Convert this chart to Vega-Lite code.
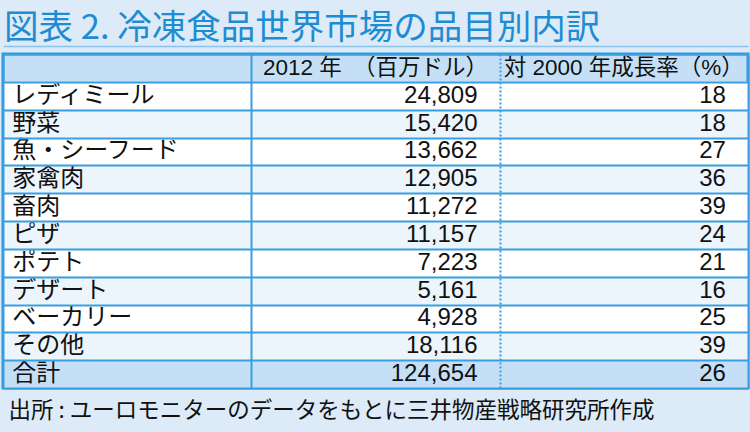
{
  "$schema": "https://vega.github.io/schema/vega-lite/v6.json",
  "width": 745,
  "height": 334,
  "autosize": {"type": "none"},
  "padding": {"left": 3, "top": 54, "right": 2, "bottom": 44},
  "background": "#ddeaf7",
  "title": {
    "text": "図表 2. 冷凍食品世界市場の品目別内訳",
    "anchor": "start",
    "frame": "group",
    "baseline": "alphabetic",
    "offset": 6,
    "dx": 1,
    "dy": 33,
    "font": "Noto Sans CJK JP",
    "fontSize": 34.5,
    "fontWeight": "normal",
    "color": "#1e8cd2"
  },
  "config": {
    "view": {"fill": "#c5e0f6", "stroke": "#2b97dd", "strokeWidth": 3},
    "text": {"font": "Liberation Sans, Noto Sans CJK JP", "fontSize": 24, "color": "#111111"}
  },
  "data": {
    "values": [
      {"item": "レディミール", "sales": 24809, "growth": 18},
      {"item": "野菜", "sales": 15420, "growth": 18},
      {"item": "魚・シーフード", "sales": 13662, "growth": 27},
      {"item": "家禽肉", "sales": 12905, "growth": 36},
      {"item": "畜肉", "sales": 11272, "growth": 39},
      {"item": "ピザ", "sales": 11157, "growth": 24},
      {"item": "ポテト", "sales": 7223, "growth": 21},
      {"item": "デザート", "sales": 5161, "growth": 16},
      {"item": "ベーカリー", "sales": 4928, "growth": 25},
      {"item": "その他", "sales": 18116, "growth": 39},
      {"item": "合計", "sales": 124654, "growth": 26}
    ]
  },
  "layer": [
    {
      "transform": [
        {"window": [{"op": "row_number", "as": "n"}]},
        {"calculate": "datum.n == 11 ? 'total' : (datum.n % 2 == 1 ? 'odd' : 'even')", "as": "shade"},
        {"fold": ["item", "sales", "growth"], "as": ["col", "v"]}
      ],
      "mark": {"type": "rect"},
      "encoding": {
        "x": {
          "field": "col",
          "type": "nominal",
          "scale": {"domain": ["item", "sales", "growth"], "paddingInner": 0, "paddingOuter": 0},
          "axis": {
            "orient": "bottom",
            "labels": false,
            "ticks": false,
            "domain": false,
            "grid": true,
            "tickBand": "extent",
            "gridColor": "#3a9fe0",
            "gridWidth": 2,
            "gridOpacity": 1,
            "gridDash": {"condition": {"test": "datum.value == 'sales'", "value": [2, 2]}, "value": [1, 0]},
            "zindex": 1,
            "title": "出所 : ユーロモニターのデータをもとに三井物産戦略研究所作成",
            "titleAnchor": "start",
            "titleAlign": "left",
            "titleBaseline": "alphabetic",
            "titleX": 5,
            "titleY": 29,
            "titleFont": "Noto Sans CJK JP",
            "titleFontSize": 22.5,
            "titleFontWeight": "normal",
            "titleColor": "#111111"
          }
        },
        "y": {
          "field": "item",
          "type": "nominal",
          "scale": {
            "domain": [" ", "レディミール", "野菜", "魚・シーフード", "家禽肉", "畜肉", "ピザ", "ポテト", "デザート", "ベーカリー", "その他", "合計"],
            "paddingInner": 0,
            "paddingOuter": 0
          },
          "axis": {
            "orient": "left",
            "labels": false,
            "ticks": false,
            "domain": false,
            "grid": true,
            "tickBand": "extent",
            "gridColor": "#3a9fe0",
            "gridWidth": 2,
            "gridOpacity": 1,
            "zindex": 1,
            "title": null
          }
        },
        "color": {
          "field": "shade",
          "type": "nominal",
          "scale": {"domain": ["odd", "even", "total"], "range": ["#ffffff", "#ecf4fc", "#c5e0f6"]},
          "legend": null
        }
      }
    },
    {
      "transform": [{"fold": ["item"], "as": ["col", "label"]}],
      "mark": {"type": "text", "align": "left", "dx": -115, "font": "Noto Sans CJK JP", "fontSize": 24},
      "encoding": {
        "x": {"field": "col", "type": "nominal", "axis": null},
        "y": {"field": "item", "type": "nominal"},
        "text": {"field": "label"}
      }
    },
    {
      "transform": [{"fold": ["sales", "growth"], "as": ["col", "value"]}],
      "mark": {"type": "text", "align": "right", "dx": 102},
      "encoding": {
        "x": {"field": "col", "type": "nominal", "axis": null},
        "y": {"field": "item", "type": "nominal"},
        "text": {"field": "value", "type": "quantitative", "format": ","}
      }
    },
    {
      "data": {
        "values": [
          {"col": "sales", "label": "2012 年　（百万ドル）"},
          {"col": "growth", "label": "対 2000 年成長率（%）"}
        ]
      },
      "mark": {"type": "text", "align": "center", "fontSize": 22.5},
      "encoding": {
        "x": {
          "field": "col",
          "type": "nominal",
          "axis": {
            "orient": "top",
            "labels": false,
            "ticks": false,
            "domain": true,
            "domainColor": "#8cc4ec",
            "domainWidth": 1.5,
            "offset": 8,
            "grid": false,
            "title": null
          }
        },
        "y": {"datum": " ", "type": "nominal"},
        "text": {"field": "label"}
      }
    }
  ],
  "resolve": {"axis": {"x": "independent"}}
}
